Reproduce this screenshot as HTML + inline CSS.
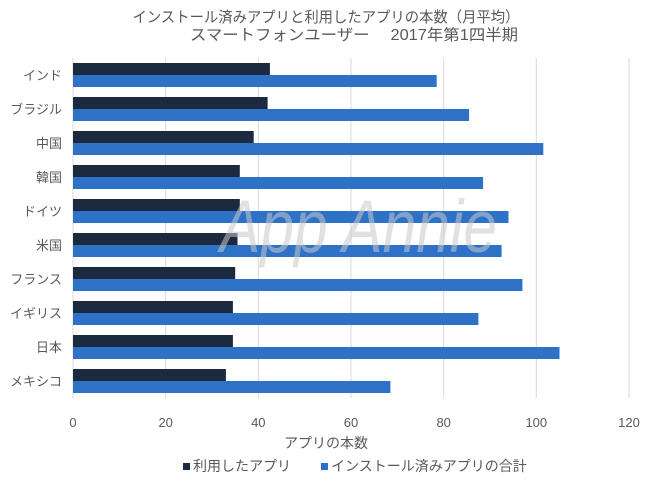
<!DOCTYPE html>
<html><head><meta charset="utf-8"><style>
html,body{margin:0;padding:0;background:#fff;}
svg{display:block;font-family:"Liberation Sans","Noto Sans CJK JP",sans-serif;}
</style></head><body>
<svg width="650" height="501" viewBox="0 0 650 501">
<rect width="650" height="501" fill="#fff"/>
<text x="326" y="22" font-size="15" text-anchor="middle" fill="#595959" textLength="387" lengthAdjust="spacingAndGlyphs">インストール済みアプリと利用したアプリの本数（月平均）</text>
<text x="190" y="40" font-size="15.5" fill="#595959" textLength="328" lengthAdjust="spacingAndGlyphs">スマートフォンユーザー　 2017年第1四半期</text>
<g stroke="#d9d9d9" stroke-width="1">
<line x1="165.7" y1="58" x2="165.7" y2="398"/>
<line x1="258.3" y1="58" x2="258.3" y2="398"/>
<line x1="351" y1="58" x2="351" y2="398"/>
<line x1="443.7" y1="58" x2="443.7" y2="398"/>
<line x1="536.3" y1="58" x2="536.3" y2="398"/>
<line x1="629" y1="58" x2="629" y2="398"/>
<line x1="73" y1="58" x2="73" y2="398"/>
</g>
<g>
<rect x="73" y="63" width="196.9" height="12" fill="#1c2a40"/><rect x="73" y="75" width="363.7" height="12" fill="#2e72c8"/>
<rect x="73" y="97" width="194.6" height="12" fill="#1c2a40"/><rect x="73" y="109" width="396.1" height="12" fill="#2e72c8"/>
<rect x="73" y="131" width="180.7" height="12" fill="#1c2a40"/><rect x="73" y="143" width="470.3" height="12" fill="#2e72c8"/>
<rect x="73" y="165" width="166.8" height="12" fill="#1c2a40"/><rect x="73" y="177" width="410.1" height="12" fill="#2e72c8"/>
<rect x="73" y="199" width="166.8" height="12" fill="#1c2a40"/><rect x="73" y="211" width="435.5" height="12" fill="#2e72c8"/>
<rect x="73" y="233" width="164.5" height="12" fill="#1c2a40"/><rect x="73" y="245" width="428.6" height="12" fill="#2e72c8"/>
<rect x="73" y="267" width="162.2" height="12" fill="#1c2a40"/><rect x="73" y="279" width="449.4" height="12" fill="#2e72c8"/>
<rect x="73" y="301" width="159.9" height="12" fill="#1c2a40"/><rect x="73" y="313" width="405.4" height="12" fill="#2e72c8"/>
<rect x="73" y="335" width="159.9" height="12" fill="#1c2a40"/><rect x="73" y="347" width="486.5" height="12" fill="#2e72c8"/>
<rect x="73" y="369" width="152.9" height="12" fill="#1c2a40"/><rect x="73" y="381" width="317.4" height="12" fill="#2e72c8"/>
</g>
<g font-size="13" text-anchor="end" fill="#595959">
<text x="62" y="80">インド</text>
<text x="62" y="114">ブラジル</text>
<text x="62" y="148">中国</text>
<text x="62" y="182">韓国</text>
<text x="62" y="216">ドイツ</text>
<text x="62" y="250">米国</text>
<text x="62" y="284">フランス</text>
<text x="62" y="318">イギリス</text>
<text x="62" y="352">日本</text>
<text x="62" y="386">メキシコ</text>
</g>
<text x="220" y="252" font-size="74" font-style="italic" fill="#c8c8c8" fill-opacity="0.55" textLength="277" lengthAdjust="spacingAndGlyphs">App Annie</text>
<g font-size="13" fill="#595959" text-anchor="middle">
<text x="73" y="427">0</text><text x="165.7" y="427">20</text><text x="258.3" y="427">40</text>
<text x="351" y="427">60</text><text x="443.7" y="427">80</text><text x="536.3" y="427">100</text><text x="629" y="427">120</text>
</g>
<text x="326" y="448" font-size="14" text-anchor="middle" fill="#595959">アプリの本数</text>
<rect x="183" y="463" width="7" height="7" fill="#1c2a40"/>
<text x="193" y="471" font-size="14" fill="#595959">利用したアプリ</text>
<rect x="321" y="463" width="7" height="7" fill="#2e72c8"/>
<text x="331" y="471" font-size="14" fill="#595959">インストール済みアプリの合計</text>
</svg>
</body></html>
